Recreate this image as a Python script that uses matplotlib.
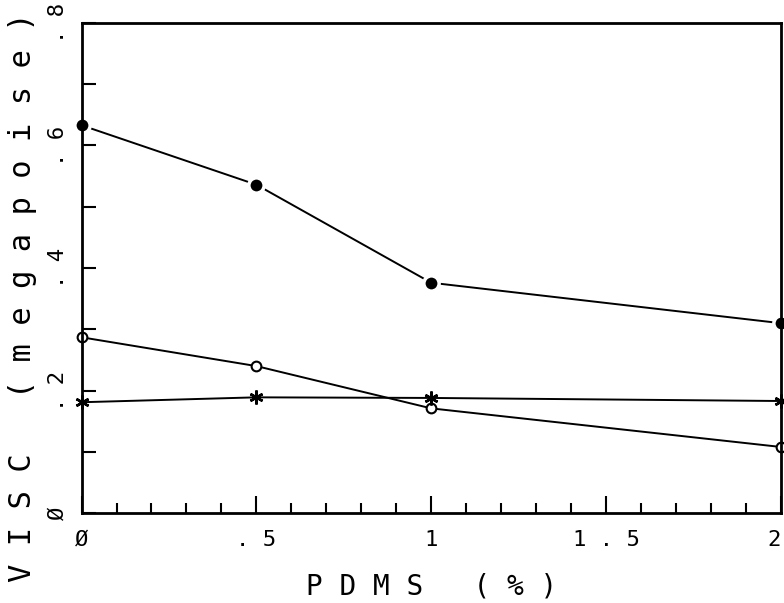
import matplotlib

matplotlib.use("Agg")
import matplotlib.pyplot as plt
from matplotlib.ticker import FixedLocator, MultipleLocator

pdms = [0, 0.5, 1, 2]
visc_filled = [0.633, 0.536, 0.376, 0.310]
visc_open = [0.287, 0.240, 0.171, 0.108]
visc_star = [0.181, 0.189, 0.188, 0.183]

x_ticks = [0, 0.5, 1, 1.5, 2]
x_ticklabels = ["Ø", ".5", "1", "1.5", "2"]
y_ticks = [0, 0.2, 0.4, 0.6, 0.8]
y_ticklabels = ["Ø", ".2", ".4", ".6", ".8"]


def spaced(s):
    return " ".join(s)


plt.rcParams["font.family"] = ["DejaVu Sans Mono"]

fig = plt.figure(figsize=(7.84, 6.03), dpi=100)
ax = fig.add_axes([0.104, 0.149, 0.892, 0.813])

ax.plot(pdms, visc_filled, color="black", lw=1.4, marker="o", ms=11,
        mfc="black", mec="white", mew=2.5, clip_on=False, zorder=2)
ax.plot(pdms, visc_open, color="black", lw=1.4, marker="o", ms=7,
        mfc="white", mec="black", mew=1.5, clip_on=False, zorder=2)
ax.plot(pdms, visc_star, color="black", lw=1.4, marker=(6, 2, 0), ms=10,
        mec="black", mew=1.8, clip_on=False, zorder=2)

ax.set_xlim(0, 2)
ax.set_ylim(0, 0.8)

ax.xaxis.set_major_locator(FixedLocator(x_ticks))
ax.xaxis.set_minor_locator(MultipleLocator(0.1))
ax.yaxis.set_major_locator(FixedLocator(y_ticks))
ax.yaxis.set_minor_locator(MultipleLocator(0.1))
ax.set_xticklabels([spaced(t) for t in x_ticklabels], fontsize=16)
ax.set_yticklabels([spaced(t) for t in y_ticklabels], fontsize=16,
                   rotation=90, va="center")
# last x label sits against the right edge of the page
ax.get_xticklabels()[-1].set_horizontalalignment("right")

ax.tick_params(which="major", direction="in", length=12, width=1.5,
               pad=12, top=False, right=False)
ax.tick_params(which="minor", direction="in", length=7, width=1.5,
               top=False, right=False)
ax.tick_params(axis="y", which="minor", length=10)
ax.tick_params(axis="y", which="major", length=10, pad=10)

for sp in ax.spines.values():
    sp.set_linewidth(2)

ax.set_xlabel(spaced("PDMS") + "   " + spaced("(%)"), fontsize=20, labelpad=16)
ax.set_ylabel(spaced("VISC") + "   " + spaced("(megapoise)"), fontsize=22)
ax.yaxis.set_label_coords(-0.064, 0.44)

fig.savefig("out.png", dpi=100)
